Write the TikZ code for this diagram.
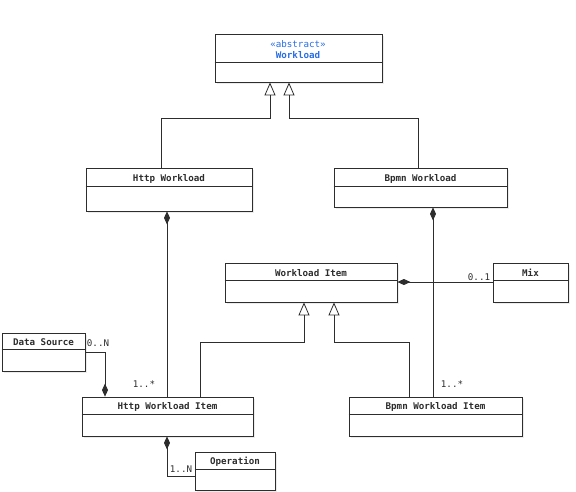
\documentclass[tikz,border=0pt]{standalone}
\usepackage{fontspec}
\setmonofont{DejaVu Sans Mono}
\usetikzlibrary{arrows.meta,fit,shadows}

\definecolor{umlline}{RGB}{45,45,45}
\definecolor{stereo}{RGB}{40,110,230}

\tikzset{
	cls/.style={draw=umlline, fill=white, inner sep=0pt, line width=0.8pt,
		drop shadow={opacity=0.15, shadow xshift=1.5pt, shadow yshift=-1.5pt}},
	title/.style={font=\ttfamily\bfseries\fontsize{9.2}{11}\selectfont, text=umlline, inner sep=0pt},
	mult/.style={font=\ttfamily\fontsize{9.2}{11}\selectfont, text=umlline, inner sep=0pt},
	gen/.style={draw=umlline, line width=0.8pt,
		-{Triangle[open, length=13pt, width=11pt, line width=0.8pt]}},
	comp/.style={draw=umlline, line width=0.8pt, {Diamond[length=13pt, width=6pt]}-},
}

\begin{document}
\begin{tikzpicture}[x=1pt, y=-1pt]
\useasboundingbox (0,0) rectangle (576,491);

% abstract base class
\node[cls, fit={(215,34) (382,82)}] (w) {};
\draw[umlline, line width=0.8pt] (w.west |- 0,62) -- (w.east |- 0,62);
\node[mult, text=stereo] (w-s) at (298,44.5) {«abstract»};
\node[title, text=stereo] (w-t) at (298,55.5) {Workload};

% the other classes
\foreach \n/\xa/\ya/\xb/\yb/\d/\t in {
	hw/86/168/252/211/186/Http Workload,
	bw/334/168/507/207/186/Bpmn Workload,
	wi/225/263/397/302/280/Workload Item,
	mix/493/263/568/302/280/Mix,
	ds/2/333/85/371/349/Data Source,
	hwi/82/397/253/436/414/Http Workload Item,
	bwi/349/397/522/436/414/Bpmn Workload Item,
	op/195/452/275/490/469/Operation%
}{
	\node[cls, fit={(\xa,\ya) (\xb,\yb)}] (\n) {};
	\draw[umlline, line width=0.8pt] (\n.west |- 0,\d) -- (\n.east |- 0,\d);
	\node[title] (\n-t) at ({(\xa+\xb)/2},{(\ya+\d)/2+1.5}) {\t};
}

% generalisation
\draw[gen] (hw.north -| 161,0) |- (270,118) -- (w.south -| 270,0);
\draw[gen] (bw.north -| 418,0) |- (289,118) -- (w.south -| 289,0);
\draw[gen] (hwi.north -| 200,0) |- (304,342) -- (wi.south -| 304,0);
\draw[gen] (bwi.north -| 409,0) |- (334,342) -- (wi.south -| 334,0);

% composition
\draw[comp] (hw.south -| 167,0) -- (hwi.north -| 167,0);
\draw[comp] (bw.south -| 433,0) -- (bwi.north -| 433,0);
\draw[comp] (wi.east |- 0,282) -- (mix.west |- 0,282);
\draw[comp] (hwi.north -| 105,0) |- (ds.east);
\draw[comp] (hwi.south -| 167,0) |- (op.west |- 0,476);

% multiplicities
\node[mult] (m-hwi) at (144,384) {1..*};
\node[mult] (m-bwi) at (452,384) {1..*};
\node[mult] (m-mix) at (479,277) {0..1};
\node[mult] (m-ds) at (98,343) {0..N};
\node[mult] (m-op) at (181,469) {1..N};
\end{tikzpicture}
\end{document}
